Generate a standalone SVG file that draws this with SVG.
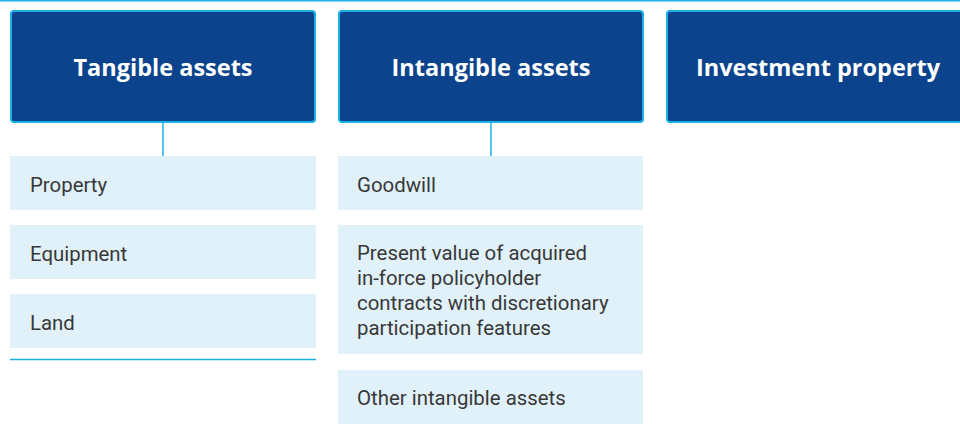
<svg xmlns="http://www.w3.org/2000/svg" width="960" height="430" viewBox="0 0 960 430">
<style>
.hdr{fill:#0b438c;stroke:#1bb0e6;stroke-width:2}
.ht{font-family:"Open Sans",Roboto,"Liberation Sans",sans-serif;font-weight:700;font-size:23.5px;fill:#ffffff;text-anchor:middle}
.item{fill:#e1f1fa}
.it{font-family:Roboto,"Liberation Sans",sans-serif;font-weight:400;font-size:20.4px;fill:#383838}
.conn{stroke:#1bb0e6;stroke-width:1.5;fill:none}
</style>
<rect x="0" y="0" width="960" height="430" fill="#ffffff"/>
<line x1="0" y1="0.8" x2="960" y2="0.8" stroke="#1bb0e6" stroke-width="1.6"/>
<g id="connectors">
<line class="conn" x1="163" y1="122" x2="163" y2="156"/>
<line class="conn" x1="491" y1="122" x2="491" y2="156"/>
<line class="conn" x1="10" y1="359.5" x2="316" y2="359.5"/>
</g>
<g id="tangible">
<rect class="hdr" x="11" y="11" width="304" height="111" rx="3"/>
<text class="ht" x="163" y="75.5">Tangible assets</text>
</g>
<g id="intangible">
<rect class="hdr" x="339" y="11" width="304" height="111" rx="3"/>
<text class="ht" x="491" y="75.5">Intangible assets</text>
</g>
<g id="investment">
<rect class="hdr" x="667" y="11" width="304" height="111" rx="3"/>
<text class="ht" x="818" y="75.5">Investment property</text>
</g>
<g id="property">
<rect class="item" x="10" y="156" width="306" height="54"/>
<text class="it" x="30" y="191.5">Property</text>
</g>
<g id="equipment">
<rect class="item" x="10" y="225" width="306" height="54"/>
<text class="it" x="30" y="260.5">Equipment</text>
</g>
<g id="land">
<rect class="item" x="10" y="294" width="306" height="54"/>
<text class="it" x="30" y="329.5">Land</text>
</g>
<g id="goodwill">
<rect class="item" x="338" y="156" width="305" height="54"/>
<text class="it" x="357" y="191.5">Goodwill</text>
</g>
<g id="pvif">
<rect class="item" x="338" y="225" width="305" height="129"/>
<text class="it" x="357" y="260">Present value of acquired</text>
<text class="it" x="357" y="285">in-force policyholder</text>
<text class="it" x="357" y="310">contracts with discretionary</text>
<text class="it" x="357" y="335">participation features</text>
</g>
<g id="other">
<rect class="item" x="338" y="370" width="305" height="54"/>
<text class="it" x="357" y="405">Other intangible assets</text>
</g>
</svg>
